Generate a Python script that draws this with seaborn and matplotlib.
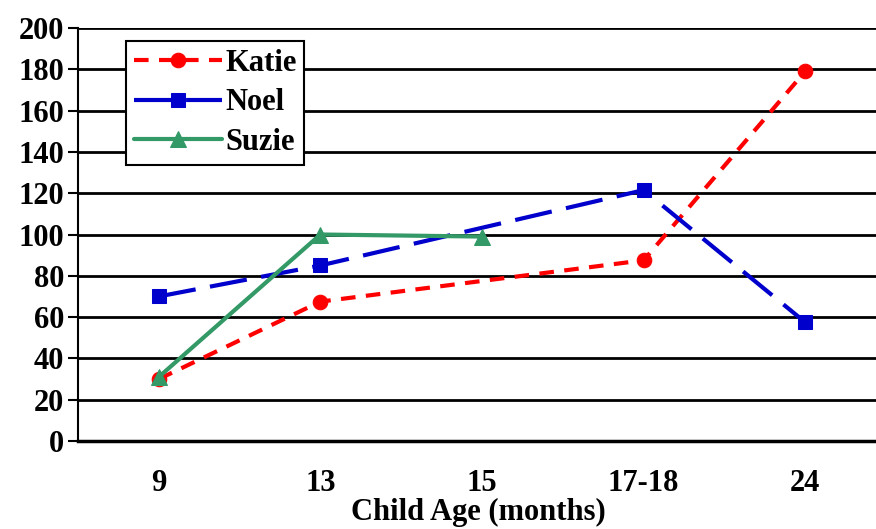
import matplotlib
matplotlib.use("Agg")
import matplotlib.pyplot as plt
import seaborn as sns
import numpy as np
import pandas as pd

categories = ["9", "13", "15", "17-18", "24"]
katie = [30, 67.5, np.nan, 87.5, 179]
noel = [70, 85, np.nan, 121.5, 57.5]
suzie = [31, 100, 99, np.nan, np.nan]
y_ticks = [0, 20, 40, 60, 80, 100, 120, 140, 160, 180, 200]

sns.set_theme(style="white")
plt.rcParams['font.family'] = ['Liberation Serif', 'DejaVu Serif']
plt.rcParams['font.weight'] = 'bold'
plt.rcParams['text.color'] = 'black'
plt.rcParams['axes.labelcolor'] = 'black'
plt.rcParams['xtick.color'] = 'black'
plt.rcParams['ytick.color'] = 'black'

FS = 22

fig = plt.figure(figsize=(8.76, 5.29), dpi=100)
ax = fig.add_axes([78/876, 88/529, 808/876, 413/529])

series = [
    ("Katie", katie, "#FF0000", "o", (0, (3.5, 2.5)), 10.5),
    ("Noel", noel, "#0000CC", "s", (0, (9, 3.5)), 10),
    ("Suzie", suzie, "#339966", "^", "-", 11.5),
]

pos = np.arange(len(categories))
for name, vals, color, marker, ls, ms in series:
    df = pd.DataFrame({"x": pos, "y": vals}).dropna()
    sns.lineplot(data=df, x="x", y="y", ax=ax, color=color, marker=marker,
                 markersize=ms, markeredgecolor=color, linewidth=3,
                 linestyle=ls, label=name, estimator=None, sort=False)

ax.set_xlim(-0.5, 4.5)
ax.set_ylim(0, 200)
ax.set_yticks(y_ticks)
ax.set_yticklabels([str(t) for t in y_ticks], fontsize=FS, fontweight='bold', color='black')
ax.set_xticks(pos)
ax.set_xticklabels(categories, fontsize=FS, fontweight='bold', color='black')
ax.set_xticks(np.arange(-0.5, 5.0, 1.0), minor=True)
ax.tick_params(axis='x', which='major', length=0, pad=20)
ax.tick_params(axis='x', which='minor', length=9, width=1.5, color='black', direction='out')
ax.tick_params(axis='y', length=7, width=1.5, color='black', direction='out', pad=3, left=True)
ax.yaxis.grid(True, color='black', linewidth=2)
ax.set_axisbelow(True)
for s in ['top', 'right']:
    ax.spines[s].set_visible(False)
ax.spines['left'].set_color('black')
ax.spines['left'].set_linewidth(1.5)
ax.spines['bottom'].set_color('black')
ax.spines['bottom'].set_linewidth(2.5)
ax.set_ylabel("")
ax.set_xlabel("Child Age (months)", fontsize=FS, fontweight='bold', va='center', color='black')
ax.xaxis.set_label_coords((478 - 78) / 808, (441 - 512) / 413)

leg = ax.legend(loc='upper left', bbox_to_anchor=(48/808, 1 - 13/413),
                frameon=True, fancybox=False, edgecolor='black',
                prop={'family': 'Liberation Serif', 'weight': 'bold', 'size': FS},
                handlelength=2.9, borderpad=0.25, labelspacing=0.35,
                handletextpad=0.1, borderaxespad=0)
for t in leg.get_texts():
    t.set_color('black')
leg.get_frame().set_linewidth(1.5)
leg.get_frame().set_facecolor('white')
leg.get_frame().set_alpha(1)

fig.savefig("out.png", dpi=100)
